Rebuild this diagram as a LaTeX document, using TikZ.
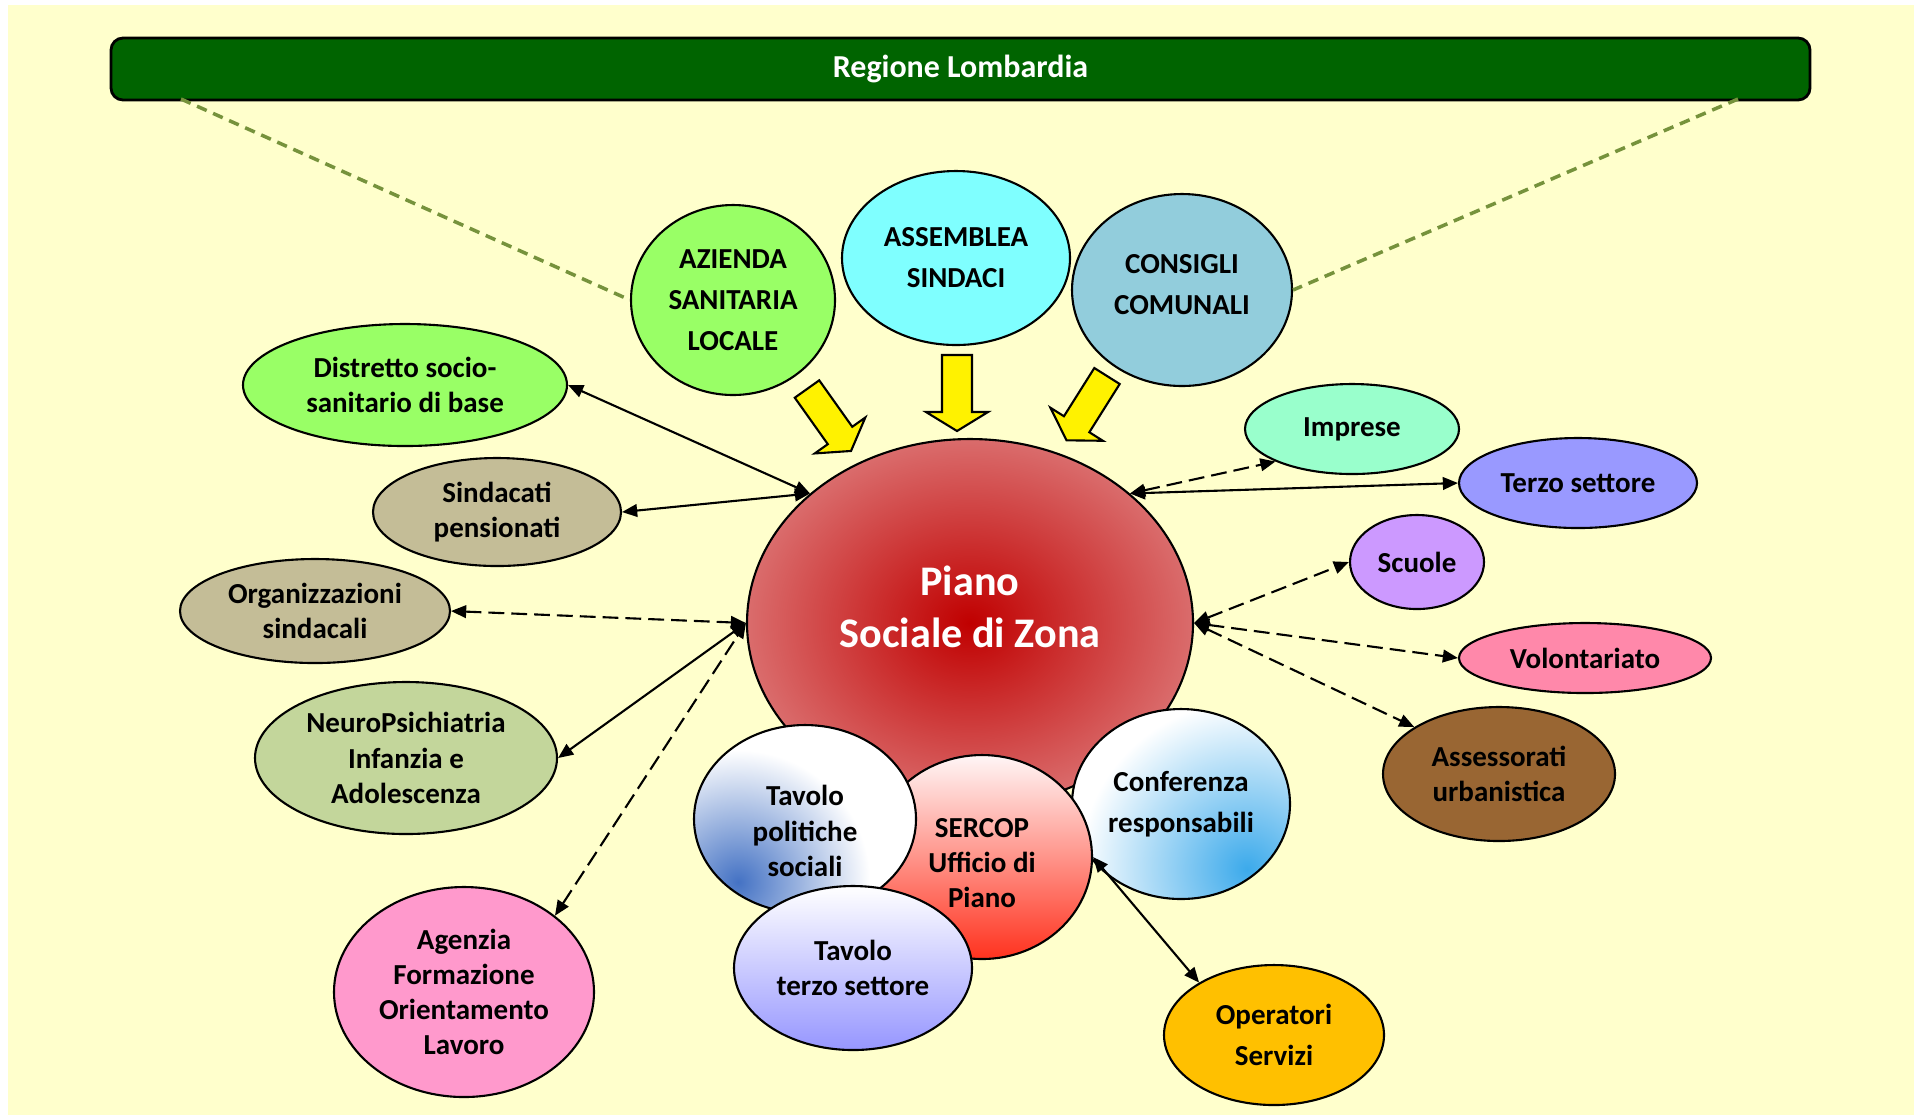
\documentclass[tikz,border=0pt]{standalone}
\usepackage{fontspec}
\setmainfont{Carlito}
\usetikzlibrary{shapes.geometric,arrows.meta}

\definecolor{bgyellow}{RGB}{255,255,204}
\definecolor{regiongreen}{RGB}{0,100,0}
\definecolor{olivedash}{RGB}{118,146,60}
\definecolor{lightgreen}{RGB}{153,255,102}
\definecolor{cyanfill}{RGB}{127,255,255}
\definecolor{paleblue}{RGB}{146,205,220}
\definecolor{khaki}{RGB}{196,189,151}
\definecolor{sage}{RGB}{195,214,155}
\definecolor{pinkfill}{RGB}{255,153,204}
\definecolor{mint}{RGB}{153,255,204}
\definecolor{periwinkle}{RGB}{153,153,255}
\definecolor{lilac}{RGB}{204,153,255}
\definecolor{rosefill}{RGB}{255,136,170}
\definecolor{brownfill}{RGB}{153,102,51}
\definecolor{amber}{RGB}{255,192,0}
\definecolor{pianodark}{RGB}{192,0,0}
\definecolor{pianolight}{RGB}{218,108,108}
\definecolor{sercoptop}{RGB}{255,246,246}
\definecolor{sercopbot}{RGB}{255,50,30}
\definecolor{tpblue}{RGB}{68,114,196}
\definecolor{confblue}{RGB}{60,170,235}
\definecolor{ttbot}{RGB}{150,150,255}

\pgfdeclareradialshading{tpfade}{\pgfpoint{0bp}{0bp}}{color(0bp)=(tpblue); color(5.5bp)=(white); color(50bp)=(white)}
\pgfdeclareradialshading{conffade}{\pgfpoint{0bp}{0bp}}{color(0bp)=(confblue); color(7bp)=(white); color(50bp)=(white)}

\newcommand{\bubblefont}{\fontsize{8.25}{10}\selectfont\bfseries}
\newcommand{\widefont}{\fontsize{8.25}{11.7}\selectfont\bfseries}
\newcommand{\pianofont}{\fontsize{12}{14.8}\selectfont\bfseries}
\newcommand{\regfont}{\fontsize{9.1}{11}\selectfont\bfseries}

\tikzset{
  bubble/.style={ellipse, draw=black, line width=0.6pt, inner sep=0pt, align=center, font=\bubblefont},
  ell/.style n args={2}{minimum width=#1mm, minimum height=#2mm},
  link/.style={<->, >={Triangle[length=4.3pt,width=3.6pt]}, line width=0.6pt},
  dlink/.style={link, dash pattern=on 4.5pt off 2pt},
  regdash/.style={olivedash, line width=1pt, dash pattern=on 3pt off 2pt},
  blockarrow/.style={fill=yellow, draw=black, line width=0.6pt, line join=miter},
}

\begin{document}
\begin{tikzpicture}[x=0.1mm, y=-0.1mm]
    \useasboundingbox (0,0) rectangle (1919,1115);
    \fill[white] (0,0) rectangle (1919,1115);
    \fill[bgyellow] (8,5) rectangle (1914,1115);

    % Regione
    \node[rectangle, rounded corners=1.2mm, draw=black, line width=0.8pt, fill=regiongreen,
          minimum width=169.9mm, minimum height=6.2mm, text=white, font=\regfont]
          (regione) at (960.5,69) {Regione Lombardia};
    \coordinate (regL) at (181,99);
    \coordinate (regR) at (1738,99);

    % top
    \node[bubble, ell={20.4}{19}, fill=lightgreen, font=\widefont] (asl) at (733,300) {AZIENDA\\SANITARIA\\LOCALE};
    \node[bubble, ell={22.8}{17.4}, fill=cyanfill, font=\widefont] (assemblea) at (956,258) {ASSEMBLEA\\SINDACI};
    \node[bubble, ell={22}{19.2}, fill=paleblue] (consigli) at (1182,290) {};
    \node[font=\widefont, align=center] (consiglilbl) at (1182,285) {CONSIGLI\\COMUNALI};
    \draw[regdash] (regL) -- (asl.west);
    \draw[regdash] (regR) -- (consigli.east);

    % left
    \node[bubble, ell={32.4}{12.2}, fill=lightgreen] (distretto) at (405,385) {Distretto socio-\\sanitario di base};
    \node[bubble, ell={24.8}{10.8}, fill=khaki] (pensionati) at (497,512) {Sindacati\\pensionati};
    \node[bubble, ell={27}{10.4}, fill=khaki] (sindacali) at (315,611) {Organizzazioni\\sindacali};
    \node[bubble, ell={30.2}{15.2}, fill=sage] (npia) at (406,758) {NeuroPsichiatria\\Infanzia e\\Adolescenza};
    \node[bubble, ell={26}{21}, fill=pinkfill] (agenzia) at (464,992) {Agenzia\\Formazione\\Orientamento\\Lavoro};

    % right
    \node[bubble, ell={21.4}{9}, fill=mint] (imprese) at (1352,429) {Imprese};
    \node[bubble, ell={23.8}{9}, fill=periwinkle] (terzo) at (1578,483) {Terzo settore};
    \node[bubble, ell={13.4}{9.4}, fill=lilac] (scuole) at (1417,562) {Scuole};
    \node[bubble, ell={25.2}{7}, fill=rosefill] (volontariato) at (1585,658) {Volontariato};
    \node[bubble, ell={23.2}{13.4}, fill=brownfill] (assessorati) at (1499,774) {Assessorati\\urbanistica};
    \node[bubble, ell={22}{14}, fill=amber, font=\widefont] (operatori) at (1274,1035) {Operatori\\Servizi};

    % centre
    \node[bubble, ell={44.6}{36.8}, inner color=pianodark, outer color=pianolight] (piano) at (970,623) {};
    \node[font=\pianofont, text=white, align=center] (pianolbl) at (970,607) {Piano\\Sociale di Zona};
    \node[bubble, ell={21.8}{19}, fill=white, font=\widefont,
          path picture={\shade[shading=conffade]
            ([xshift=-4.3mm,yshift=3mm]path picture bounding box.south east) circle (60mm);}]
          (conferenza) at (1181,804) {Conferenza\\responsabili};
    \node[bubble, ell={22}{20.4}, top color=sercoptop, bottom color=sercopbot] (sercop) at (982,857) {};
    \node[font=\bubblefont, align=center] (sercoplbl) at (982,863) {SERCOP\\Ufficio di\\Piano};
    \node[bubble, ell={22.2}{18.8}, fill=white,
          path picture={\shade[shading=tpfade]
            ([xshift=4.4mm,yshift=3.1mm]path picture bounding box.south west) circle (60mm);}]
          (tpolitiche) at (805,819) {};
    \node[font=\bubblefont, align=center] (tpoliticheldl) at (805,831) {Tavolo\\politiche\\sociali};
    \node[bubble, ell={23.8}{16.4}, top color=white, bottom color=ttbot] (tterzo) at (853,968) {Tavolo\\terzo settore};

    % yellow arrows
    \foreach \tx/\ty/\ang in {807/389/-54.6, 957/355/-90, 1107/376/-122.2}{
        \begin{scope}[shift={(\tx,\ty)}, rotate=\ang]
            \draw[blockarrow] (0,-15) -- (57,-15) -- (57,-31) -- (76,0) -- (57,31) -- (57,15) -- (0,15) -- cycle;
        \end{scope}
    }

    % links
    \draw[link] (distretto.east) -- (piano.141);
    \draw[link] (pensionati.east) -- (piano.141);
    \draw[dlink] (sindacali.east) -- (piano.west);
    \draw[link] (npia.east) -- (piano.west);
    \draw[dlink] (agenzia.40) -- (piano.west);
    \draw[dlink] (piano.39) -- (imprese.203);
    \draw[link] (piano.39) -- (terzo.west);
    \draw[dlink] (piano.east) -- (scuole.west);
    \draw[dlink] (piano.east) -- (volontariato.west);
    \draw[dlink] (piano.east) -- (assessorati.151);
    \draw[link] (sercop.east) -- (operatori.145);
\end{tikzpicture}
\end{document}
